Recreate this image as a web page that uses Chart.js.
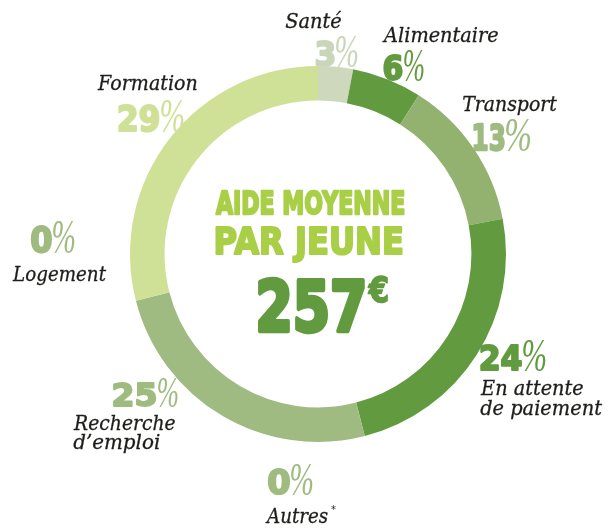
<!DOCTYPE html>
<html>
<head>
<meta charset="utf-8">
<script src="https://cdn.jsdelivr.net/npm/chart.js@4.4.1/dist/chart.umd.min.js"></script>
<style>
  body { margin: 0; background: #fff; }
</style>
</head>
<body>
<canvas id="donut" width="608" height="528"></canvas>
<script>
// clockwise from the top
const categories = ['Santé', 'Alimentaire', 'Transport', 'En attente de paiement', 'Autres', 'Recherche d’emploi', 'Logement', 'Formation'];
const values = [3, 6, 13, 24, 0, 25, 0, 29];
const pctLabels = ['3', '6', '13', '24', '0', '25', '0', '29'];
const nameLines = [['Santé'], ['Alimentaire'], ['Transport'], ['En attente', 'de paiement'], ['Autres'], ['Recherche', 'd’emploi'], ['Logement'], ['Formation']];
const centerTitle = ['AIDE MOYENNE', 'PAR JEUNE'];
const centerAmount = '257';

const segColors = ['#cdd8bd', '#629b3f', '#94b26f', '#629b3f', '#9fbb80', '#a0bb81', '#9fbb80', '#cfe197'];
const pctColors = ['#c9d6ba', '#629b3f', '#9fbb80', '#629b3f', '#9fbb80', '#9fbb80', '#9fbb80', '#cfe197'];

// text layout, offsets from the ring centre
const layout = [
  { name: [[-33, -226, 57]], pct: [-3, -187, 28, 20, 22] },
  { name: [[64, -212, 116]], pct: [65, -173, 28, 20, 20] },
  { name: [[144, -143, 96]], pct: [155, -103, 29, 32, 25] },
  { name: [[162, 141, 103], [162, 161, 123]], pct: [162, 117, 28, 42, 23] },
  { name: [[-53, 269, 63]], pct: [-51, 241, 28, 23, 22], star: true },
  { name: [[-245, 176, 102], [-245, 195, 87]], pct: [-205, 153, 27, 44, 20] },
  { name: [[-306, 27, 95]], pct: [-288, -1, 30, 22, 22] },
  { name: [[-221, -164, 100]], pct: [-200, -122, 30, 42, 23] }
];

// draw text so its ink fills width w (and cap height h if given); lw thickens it
function fitText(ctx, text, x, base, font, w, h, color, lw) {
  lw = lw || 0;
  ctx.save();
  ctx.font = font;
  ctx.textAlign = 'left';
  ctx.textBaseline = 'alphabetic';
  const m = ctx.measureText(text);
  const inkW = m.actualBoundingBoxLeft + m.actualBoundingBoxRight;
  const sx = (w - lw) / inkW;
  const sy = h ? (h - lw) / m.actualBoundingBoxAscent : 1;
  ctx.translate(x + lw / 2, base - lw / 2);
  ctx.scale(sx, sy);
  ctx.fillStyle = color;
  ctx.fillText(text, m.actualBoundingBoxLeft, 0);
  if (lw) {
    ctx.strokeStyle = color;
    ctx.lineJoin = 'round';
    ctx.lineWidth = lw / Math.sqrt(sx * sy);
    ctx.strokeText(text, m.actualBoundingBoxLeft, 0);
  }
  ctx.restore();
}

const labelsPlugin = {
  id: 'labelsPlugin',
  beforeDatasetsDraw(chart) {
    const ctx = chart.ctx;
    const arc = chart.getDatasetMeta(0).data[0];
    const cx = arc.x, cy = arc.y;
    layout.forEach((l, i) => {
      l.name.forEach((n, j) => {
        fitText(ctx, nameLines[i][j], cx + n[0], cy + n[1], 'italic 20px "DejaVu Serif"', n[2], 0, '#1d1d1b', 0.3);
      });
      if (l.star) {
        const n = l.name[0];
        fitText(ctx, '*', cx + n[0] + n[2] + 3, cy + n[1] - 10, '10px "DejaVu Sans"', 5, 0, '#1d1d1b');
      }
      const p = l.pct;
      fitText(ctx, pctLabels[i], cx + p[0], cy + p[1], 'bold 40px "DejaVu Sans"', p[3], p[2], pctColors[i], 2);
      fitText(ctx, '%', cx + p[0] + p[3] + 1, cy + p[1], 'italic 40px "Liberation Serif"', p[4], p[2] + 2, pctColors[i]);
    });
  },
  afterDatasetsDraw(chart) {
    const ctx = chart.ctx;
    const arc = chart.getDatasetMeta(0).data[0];
    const cx = arc.x, cy = arc.y;
    fitText(ctx, centerTitle[0], cx - 103, cy - 39, 'bold 40px "DejaVu Sans"', 190, 27, '#a9cf46', 2);
    fitText(ctx, centerTitle[1], cx - 103, cy + 1, 'bold 40px "DejaVu Sans"', 188, 30, '#a9cf46', 2);
    fitText(ctx, centerAmount, cx - 61, cy + 79, 'bold 60px "DejaVu Sans"', 108, 56, '#629b3f', 4);
    fitText(ctx, '€', cx + 49, cy + 49, 'bold 30px "DejaVu Sans"', 21, 28, '#629b3f', 1.5);
  }
};

new Chart(document.getElementById('donut'), {
  type: 'doughnut',
  data: {
    labels: categories,
    datasets: [{
      data: values,
      backgroundColor: segColors,
      borderWidth: 0,
      hoverOffset: 0
    }]
  },
  options: {
    responsive: false,
    animation: false,
    cutout: '81.6%',
    layout: { padding: { left: 130, right: 102, top: 66, bottom: 86 } },
    plugins: {
      legend: { display: false },
      tooltip: { enabled: false }
    }
  },
  plugins: [labelsPlugin]
});
</script>
</body>
</html>
